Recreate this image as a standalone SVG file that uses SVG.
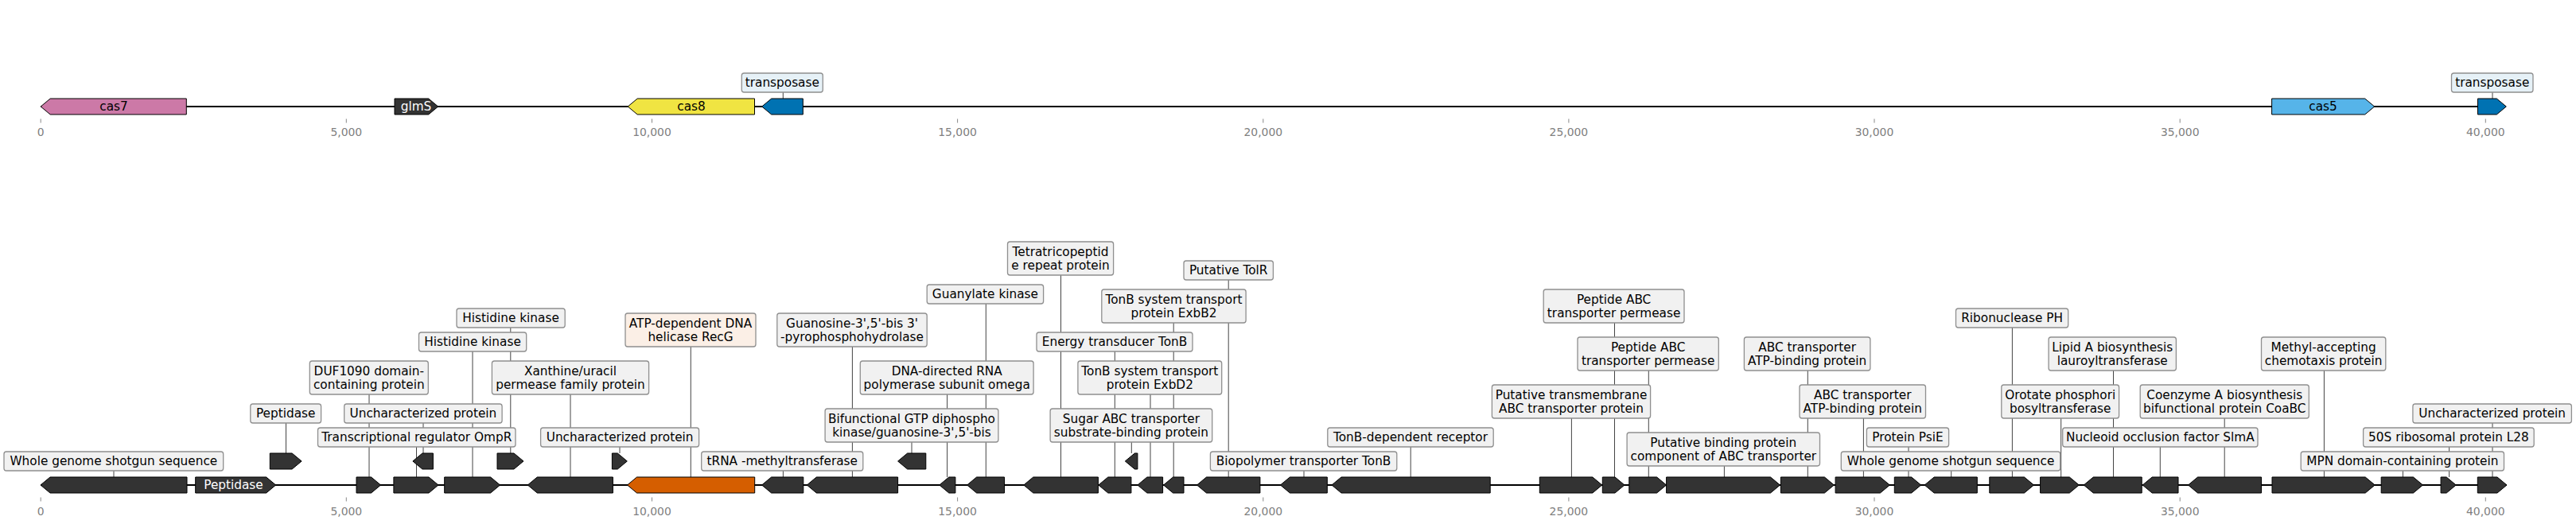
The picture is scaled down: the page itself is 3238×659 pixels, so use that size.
<svg xmlns="http://www.w3.org/2000/svg" width="3238" height="659" viewBox="0 0 3238 659">
<style>
text{font-family:"DejaVu Sans","Liberation Sans",sans-serif}
.g{stroke:#000;stroke-width:1;stroke-linejoin:miter}
.dk{fill:#333333}
.box{fill:#f1f1f1;stroke:#8f8f8f;stroke-width:1.3}
.bb{fill:#e6f1f7}
.bo{fill:#fbefe6}
.l{font-size:15.3px;text-anchor:middle;fill:#000}
.w{font-size:15.3px;text-anchor:middle;fill:#fff}
.ld{stroke:#444;stroke-width:1;fill:none}
.tk{stroke:#888;stroke-width:1}
.tl{font-size:13.9px;text-anchor:middle;fill:#808080}
.ax{stroke:#000;stroke-width:2}
</style>
<rect width="3238" height="659" fill="#fff"/>
<g id="axes">
<line class="ax" x1="51" y1="134" x2="3150" y2="134"/>
<line class="ax" x1="51" y1="610" x2="3151" y2="610"/>
<g class="tk">
<line x1="51.2" y1="149.5" x2="51.2" y2="154.5"/><line x1="435.3" y1="149.5" x2="435.3" y2="154.5"/><line x1="819.5" y1="149.5" x2="819.5" y2="154.5"/><line x1="1203.6" y1="149.5" x2="1203.6" y2="154.5"/><line x1="1587.8" y1="149.5" x2="1587.8" y2="154.5"/><line x1="1971.9" y1="149.5" x2="1971.9" y2="154.5"/><line x1="2356" y1="149.5" x2="2356" y2="154.5"/><line x1="2740.2" y1="149.5" x2="2740.2" y2="154.5"/><line x1="3124.3" y1="149.5" x2="3124.3" y2="154.5"/>
<line x1="51.2" y1="625.5" x2="51.2" y2="630.5"/><line x1="435.3" y1="625.5" x2="435.3" y2="630.5"/><line x1="819.5" y1="625.5" x2="819.5" y2="630.5"/><line x1="1203.6" y1="625.5" x2="1203.6" y2="630.5"/><line x1="1587.8" y1="625.5" x2="1587.8" y2="630.5"/><line x1="1971.9" y1="625.5" x2="1971.9" y2="630.5"/><line x1="2356" y1="625.5" x2="2356" y2="630.5"/><line x1="2740.2" y1="625.5" x2="2740.2" y2="630.5"/><line x1="3124.3" y1="625.5" x2="3124.3" y2="630.5"/>
</g>
<g class="tl">
<text x="51.2" y="171">0</text><text x="435.3" y="171">5,000</text><text x="819.5" y="171">10,000</text><text x="1203.6" y="171">15,000</text><text x="1587.8" y="171">20,000</text><text x="1971.9" y="171">25,000</text><text x="2356" y="171">30,000</text><text x="2740.2" y="171">35,000</text><text x="3124.3" y="171">40,000</text>
<text x="51.2" y="647.5">0</text><text x="435.3" y="647.5">5,000</text><text x="819.5" y="647.5">10,000</text><text x="1203.6" y="647.5">15,000</text><text x="1587.8" y="647.5">20,000</text><text x="1971.9" y="647.5">25,000</text><text x="2356" y="647.5">30,000</text><text x="2740.2" y="647.5">35,000</text><text x="3124.3" y="647.5">40,000</text>
</g>
</g>
<g id="connectors" class="ld">
<line x1="984.3" y1="116" x2="984.3" y2="124"/>
<line x1="3133" y1="116" x2="3133" y2="124"/>
<line x1="143" y1="592" x2="143" y2="600"/>
<line x1="359.5" y1="532" x2="359.5" y2="570"/>
<line x1="464" y1="496" x2="464" y2="600"/>
<line x1="532" y1="532" x2="532" y2="570"/>
<line x1="523.5" y1="562" x2="523.5" y2="600"/>
<line x1="594" y1="442" x2="594" y2="600"/>
<line x1="641.8" y1="412" x2="641.8" y2="570"/>
<line x1="717" y1="496" x2="717" y2="600"/>
<line x1="779" y1="562" x2="779" y2="570"/>
<line x1="868.3" y1="436" x2="868.3" y2="600"/>
<line x1="984.4" y1="592" x2="984.4" y2="600"/>
<line x1="1071.4" y1="436" x2="1071.4" y2="600"/>
<line x1="1146" y1="556" x2="1146" y2="570"/>
<line x1="1190.6" y1="496" x2="1190.6" y2="600"/>
<line x1="1239.3" y1="382" x2="1239.3" y2="600"/>
<line x1="1333.5" y1="346" x2="1333.5" y2="600"/>
<line x1="1401.3" y1="442" x2="1401.3" y2="600"/>
<line x1="1422.3" y1="556" x2="1422.3" y2="570"/>
<line x1="1446" y1="496" x2="1446" y2="600"/>
<line x1="1475.2" y1="406" x2="1475.2" y2="600"/>
<line x1="1544.2" y1="352" x2="1544.2" y2="600"/>
<line x1="1639" y1="592" x2="1639" y2="600"/>
<line x1="1773.2" y1="562" x2="1773.2" y2="600"/>
<line x1="1975.4" y1="526" x2="1975.4" y2="600"/>
<line x1="2029.5" y1="406" x2="2029.5" y2="600"/>
<line x1="2072.3" y1="466" x2="2072.3" y2="600"/>
<line x1="2167.4" y1="586" x2="2167.4" y2="600"/>
<line x1="2272.3" y1="466" x2="2272.3" y2="600"/>
<line x1="2342.4" y1="526" x2="2342.4" y2="600"/>
<line x1="2399" y1="562" x2="2399" y2="600"/>
<line x1="2452.7" y1="592" x2="2452.7" y2="600"/>
<line x1="2529.4" y1="412" x2="2529.4" y2="600"/>
<line x1="2590.7" y1="526" x2="2590.7" y2="600"/>
<line x1="2656.5" y1="466" x2="2656.5" y2="600"/>
<line x1="2715.3" y1="562" x2="2715.3" y2="600"/>
<line x1="2796.2" y1="526" x2="2796.2" y2="600"/>
<line x1="2921.4" y1="466" x2="2921.4" y2="600"/>
<line x1="3020.4" y1="592" x2="3020.4" y2="600"/>
<line x1="3078.6" y1="562" x2="3078.6" y2="600"/>
<line x1="3133" y1="532" x2="3133" y2="600"/>
</g>
<g id="top-cas7"><polygon class="g" fill="#CC79A7" points="51.2,134 63.2,124 234.3,124 234.3,144 63.2,144"/><text class="l" x="143" y="139.2">cas7</text></g>
<g id="top-glmS"><polygon class="g dk" points="496,124 538.7,124 550.7,134 538.7,144 496,144"/><text class="w" x="523" y="139.2">glmS</text></g>
<g id="top-cas8"><polygon class="g" fill="#F0E442" points="789.2,134 801.2,124 948.5,124 948.5,144 801.2,144"/><text class="l" x="869" y="139.2">cas8</text></g>
<g id="top-transposase1"><polygon class="g" fill="#0072B2" points="957.7,134 969.7,124 1009.3,124 1009.3,144 969.7,144"/><rect class="box bb" x="932.3" y="92" width="102" height="24" rx="3"/><text class="l" x="983.3" y="109.2">transposase</text></g>
<g id="top-cas5"><polygon class="g" fill="#56B4E9" points="2855.6,124 2972.7,124 2984.7,134 2972.7,144 2855.6,144"/><text class="l" x="2920" y="139.2">cas5</text></g>
<g id="top-transposase2"><polygon class="g" fill="#0072B2" points="3114.5,124 3138.3,124 3150.3,134 3138.3,144 3114.5,144"/><rect class="box bb" x="3081.5" y="92" width="102.5" height="24" rx="3"/><text class="l" x="3132.75" y="109.2">transposase</text></g>

<g id="b01"><polygon class="g dk" points="51,610 63,600 235,600 235,620 63,620"/><rect class="box" x="5" y="568" width="275.7" height="24" rx="3"/><text class="l" x="142.85" y="585.2">Whole genome shotgun sequence</text></g>
<g id="b02"><polygon class="g dk" points="245.7,600 334.7,600 346.7,610 334.7,620 245.7,620"/><text class="w" x="293.5" y="615.2">Peptidase</text></g>
<g id="b03"><polygon class="g dk" points="339.3,570 367.1,570 379.1,580 367.1,590 339.3,590"/><rect class="box" x="314.8" y="508" width="88.8" height="24" rx="3"/><text class="l" x="359.2" y="525.2">Peptidase</text></g>
<g id="b04"><polygon class="g dk" points="448,600 466.6,600 478.6,610 466.6,620 448,620"/><rect class="box" x="389.3" y="454" width="149" height="42" rx="3"/><text class="l"><tspan x="463.8" y="471.9">DUF1090 domain-</tspan><tspan x="463.8" y="488.7">containing protein</tspan></text></g>
<g id="b05"><polygon class="g dk" points="518.9,580 530.9,570 544.4,570 544.4,590 530.9,590"/><rect class="box" x="432.7" y="508" width="198.4" height="24" rx="3"/><text class="l" x="531.9" y="525.2">Uncharacterized protein</text></g>
<g id="b06"><polygon class="g dk" points="494.9,600 539,600 551,610 539,620 494.9,620"/><rect class="box" x="399.5" y="538" width="248.5" height="24" rx="3"/><text class="l" x="523.75" y="555.2">Transcriptional regulator OmpR</text></g>
<g id="b07"><polygon class="g dk" points="558.7,600 616.6,600 628.6,610 616.6,620 558.7,620"/><rect class="box" x="526.5" y="418" width="135.2" height="24" rx="3"/><text class="l" x="594.1" y="435.2">Histidine kinase</text></g>
<g id="b08"><polygon class="g dk" points="625,570 646,570 658,580 646,590 625,590"/><rect class="box" x="574" y="388" width="136.2" height="24" rx="3"/><text class="l" x="642.1" y="405.2">Histidine kinase</text></g>
<g id="b09"><polygon class="g dk" points="663.3,610 675.3,600 770.4,600 770.4,620 675.3,620"/><rect class="box" x="618.4" y="454" width="197.2" height="42" rx="3"/><text class="l"><tspan x="717" y="471.9">Xanthine/uracil</tspan><tspan x="717" y="488.7">permease family protein</tspan></text></g>
<g id="b10"><polygon class="g dk" points="769.4,570 776.3,570 788.3,580 776.3,590 769.4,590"/><rect class="box" x="679.6" y="538" width="199" height="24" rx="3"/><text class="l" x="779.1" y="555.2">Uncharacterized protein</text></g>
<g id="b11"><polygon class="g" fill="#D55E00" points="788.5,610 800.5,600 948.7,600 948.7,620 800.5,620"/><rect class="box bo" x="786" y="394" width="164" height="42" rx="3"/><text class="l"><tspan x="868" y="411.9">ATP-dependent DNA</tspan><tspan x="868" y="428.7">helicase RecG</tspan></text></g>
<g id="b12"><polygon class="g dk" points="957.6,610 969.6,600 1009.8,600 1009.8,620 969.6,620"/><rect class="box" x="881.7" y="568" width="203.1" height="24" rx="3"/><text class="l" x="983.25" y="585.2">tRNA -methyltransferase</text></g>
<g id="b13"><polygon class="g dk" points="1014.3,610 1026.3,600 1128.6,600 1128.6,620 1026.3,620"/><rect class="box" x="976.8" y="394" width="188.4" height="42" rx="3"/><text class="l"><tspan x="1071" y="411.9">Guanosine-3',5'-bis 3'</tspan><tspan x="1071" y="428.7">-pyrophosphohydrolase</tspan></text></g>
<g id="b14"><polygon class="g dk" points="1128.6,580 1140.6,570 1163.8,570 1163.8,590 1140.6,590"/><rect class="box" x="1037.1" y="514" width="217.8" height="42" rx="3"/><text class="l"><tspan x="1146" y="531.9">Bifunctional GTP diphospho</tspan><tspan x="1146" y="548.7">kinase/guanosine-3',5'-bis</tspan></text></g>
<g id="b15"><polygon class="g dk" points="1180.8,610 1192.8,600 1200.9,600 1200.9,620 1192.8,620"/><rect class="box" x="1081.3" y="454" width="217.8" height="42" rx="3"/><text class="l"><tspan x="1190.2" y="471.9">DNA-directed RNA</tspan><tspan x="1190.2" y="488.7">polymerase subunit omega</tspan></text></g>
<g id="b16"><polygon class="g dk" points="1215.6,610 1227.6,600 1262.5,600 1262.5,620 1227.6,620"/><rect class="box" x="1165.2" y="358" width="146.4" height="24" rx="3"/><text class="l" x="1238.4" y="375.2">Guanylate kinase</text></g>
<g id="b17"><polygon class="g dk" points="1286.8,610 1298.8,600 1380.4,600 1380.4,620 1298.8,620"/><rect class="box" x="1266.5" y="304" width="133.1" height="42" rx="3"/><text class="l"><tspan x="1333" y="321.9">Tetratricopeptid</tspan><tspan x="1333" y="338.7">e repeat protein</tspan></text></g>
<g id="b18"><polygon class="g dk" points="1380.8,610 1392.8,600 1421.9,600 1421.9,620 1392.8,620"/><rect class="box" x="1303" y="418" width="196" height="24" rx="3"/><text class="l" x="1401" y="435.2">Energy transducer TonB</text></g>
<g id="b19"><polygon class="g dk" points="1414.3,580 1426.3,570 1429.9,570 1429.9,590 1426.3,590"/><rect class="box" x="1320.1" y="514" width="203.6" height="42" rx="3"/><text class="l"><tspan x="1421.9" y="531.9">Sugar ABC transporter</tspan><tspan x="1421.9" y="548.7">substrate-binding protein</tspan></text></g>
<g id="b20"><polygon class="g dk" points="1429.9,610 1441.9,600 1461.6,600 1461.6,620 1441.9,620"/><rect class="box" x="1354.9" y="454" width="180.8" height="42" rx="3"/><text class="l"><tspan x="1445.3" y="471.9">TonB system transport</tspan><tspan x="1445.3" y="488.7">protein ExbD2</tspan></text></g>
<g id="b21"><polygon class="g dk" points="1462.5,610 1474.5,600 1488,600 1488,620 1474.5,620"/><rect class="box" x="1384.8" y="364" width="181.3" height="42" rx="3"/><text class="l"><tspan x="1475.45" y="381.9">TonB system transport</tspan><tspan x="1475.45" y="398.7">protein ExbB2</tspan></text></g>
<g id="b22"><polygon class="g dk" points="1504.5,610 1516.5,600 1583.9,600 1583.9,620 1516.5,620"/><rect class="box" x="1488" y="328" width="112.4" height="24" rx="3"/><text class="l" x="1544.2" y="345.2">Putative TolR</text></g>
<g id="b23"><polygon class="g dk" points="1609.4,610 1621.4,600 1668.3,600 1668.3,620 1621.4,620"/><rect class="box" x="1521.4" y="568" width="234.4" height="24" rx="3"/><text class="l" x="1638.6" y="585.2">Biopolymer transporter TonB</text></g>
<g id="b24"><polygon class="g dk" points="1674,610 1686,600 1873.2,600 1873.2,620 1686,620"/><rect class="box" x="1668.8" y="538" width="208.4" height="24" rx="3"/><text class="l" x="1773" y="555.2">TonB-dependent receptor</text></g>
<g id="b25"><polygon class="g dk" points="1935.3,600 2001.8,600 2013.8,610 2001.8,620 1935.3,620"/><rect class="box" x="1875.4" y="484" width="199.2" height="42" rx="3"/><text class="l"><tspan x="1975" y="501.9">Putative transmembrane</tspan><tspan x="1975" y="518.7">ABC transporter protein</tspan></text></g>
<g id="b26"><polygon class="g dk" points="2014.3,600 2030,600 2042,610 2030,620 2014.3,620"/><rect class="box" x="1940.2" y="364" width="176.8" height="42" rx="3"/><text class="l"><tspan x="2028.6" y="381.9">Peptide ABC</tspan><tspan x="2028.6" y="398.7">transporter permease</tspan></text></g>
<g id="b27"><polygon class="g dk" points="2047.8,600 2082.6,600 2094.6,610 2082.6,620 2047.8,620"/><rect class="box" x="1983" y="424" width="177.3" height="42" rx="3"/><text class="l"><tspan x="2071.65" y="441.9">Peptide ABC</tspan><tspan x="2071.65" y="458.7">transporter permease</tspan></text></g>
<g id="b28"><polygon class="g dk" points="2094.6,600 2225.5,600 2237.5,610 2225.5,620 2094.6,620"/><rect class="box" x="2045.1" y="544" width="242.4" height="42" rx="3"/><text class="l"><tspan x="2166.3" y="561.9">Putative binding protein</tspan><tspan x="2166.3" y="578.7">component of ABC transporter</tspan></text></g>
<g id="b29"><polygon class="g dk" points="2238.4,600 2293.4,600 2305.4,610 2293.4,620 2238.4,620"/><rect class="box" x="2192.4" y="424" width="158.5" height="42" rx="3"/><text class="l"><tspan x="2271.65" y="441.9">ABC transporter</tspan><tspan x="2271.65" y="458.7">ATP-binding protein</tspan></text></g>
<g id="b30"><polygon class="g dk" points="2307.1,600 2363.4,600 2375.4,610 2363.4,620 2307.1,620"/><rect class="box" x="2262" y="484" width="158.5" height="42" rx="3"/><text class="l"><tspan x="2341.25" y="501.9">ABC transporter</tspan><tspan x="2341.25" y="518.7">ATP-binding protein</tspan></text></g>
<g id="b31"><polygon class="g dk" points="2381.3,600 2402.7,600 2414.7,610 2402.7,620 2381.3,620"/><rect class="box" x="2346.4" y="538" width="103.2" height="24" rx="3"/><text class="l" x="2398" y="555.2">Protein PsiE</text></g>
<g id="b32"><polygon class="g dk" points="2419.2,610 2431.2,600 2485.3,600 2485.3,620 2431.2,620"/><rect class="box" x="2314.3" y="568" width="275.4" height="24" rx="3"/><text class="l" x="2452" y="585.2">Whole genome shotgun sequence</text></g>
<g id="b33"><polygon class="g dk" points="2500.8,600 2544.5,600 2556.5,610 2544.5,620 2500.8,620"/><rect class="box" x="2458.5" y="388" width="141.2" height="24" rx="3"/><text class="l" x="2529.1" y="405.2">Ribonuclease PH</text></g>
<g id="b34"><polygon class="g dk" points="2564.6,600 2601.3,600 2613.3,610 2601.3,620 2564.6,620"/><rect class="box" x="2515.8" y="484" width="147.8" height="42" rx="3"/><text class="l"><tspan x="2589.7" y="501.9">Orotate phosphori</tspan><tspan x="2589.7" y="518.7">bosyltransferase</tspan></text></g>
<g id="b35"><polygon class="g dk" points="2619.3,610 2631.3,600 2692.2,600 2692.2,620 2631.3,620"/><rect class="box" x="2575.1" y="424" width="160.3" height="42" rx="3"/><text class="l"><tspan x="2655.25" y="441.9">Lipid A biosynthesis</tspan><tspan x="2655.25" y="458.7">lauroyltransferase</tspan></text></g>
<g id="b36"><polygon class="g dk" points="2693.2,610 2705.2,600 2738,600 2738,620 2705.2,620"/><rect class="box" x="2592.7" y="538" width="245.3" height="24" rx="3"/><text class="l" x="2715.35" y="555.2">Nucleoid occlusion factor SlmA</text></g>
<g id="b37"><polygon class="g dk" points="2750.5,610 2762.5,600 2842.5,600 2842.5,620 2762.5,620"/><rect class="box" x="2690.2" y="484" width="212.1" height="42" rx="3"/><text class="l"><tspan x="2796.25" y="501.9">Coenzyme A biosynthesis</tspan><tspan x="2796.25" y="518.7">bifunctional protein CoaBC</tspan></text></g>
<g id="b38"><polygon class="g dk" points="2856,600 2973.2,600 2985.2,610 2973.2,620 2856,620"/><rect class="box" x="2842.5" y="424" width="156.3" height="42" rx="3"/><text class="l"><tspan x="2920.65" y="441.9">Methyl-accepting</tspan><tspan x="2920.65" y="458.7">chemotaxis protein</tspan></text></g>
<g id="b39"><polygon class="g dk" points="2993.2,600 3033.5,600 3045.5,610 3033.5,620 2993.2,620"/><rect class="box" x="2892.2" y="568" width="255.3" height="24" rx="3"/><text class="l" x="3019.85" y="585.2">MPN domain-containing protein</text></g>
<g id="b40"><polygon class="g dk" points="3068.1,600 3075.2,600 3087.2,610 3075.2,620 3068.1,620"/><rect class="box" x="2970.6" y="538" width="214.6" height="24" rx="3"/><text class="l" x="3077.9" y="555.2">50S ribosomal protein L28</text></g>
<g id="b41"><polygon class="g dk" points="3114.3,600 3139,600 3151,610 3139,620 3114.3,620"/><rect class="box" x="3032.9" y="508" width="199.5" height="24" rx="3"/><text class="l" x="3132.65" y="525.2">Uncharacterized protein</text></g>
</svg>
